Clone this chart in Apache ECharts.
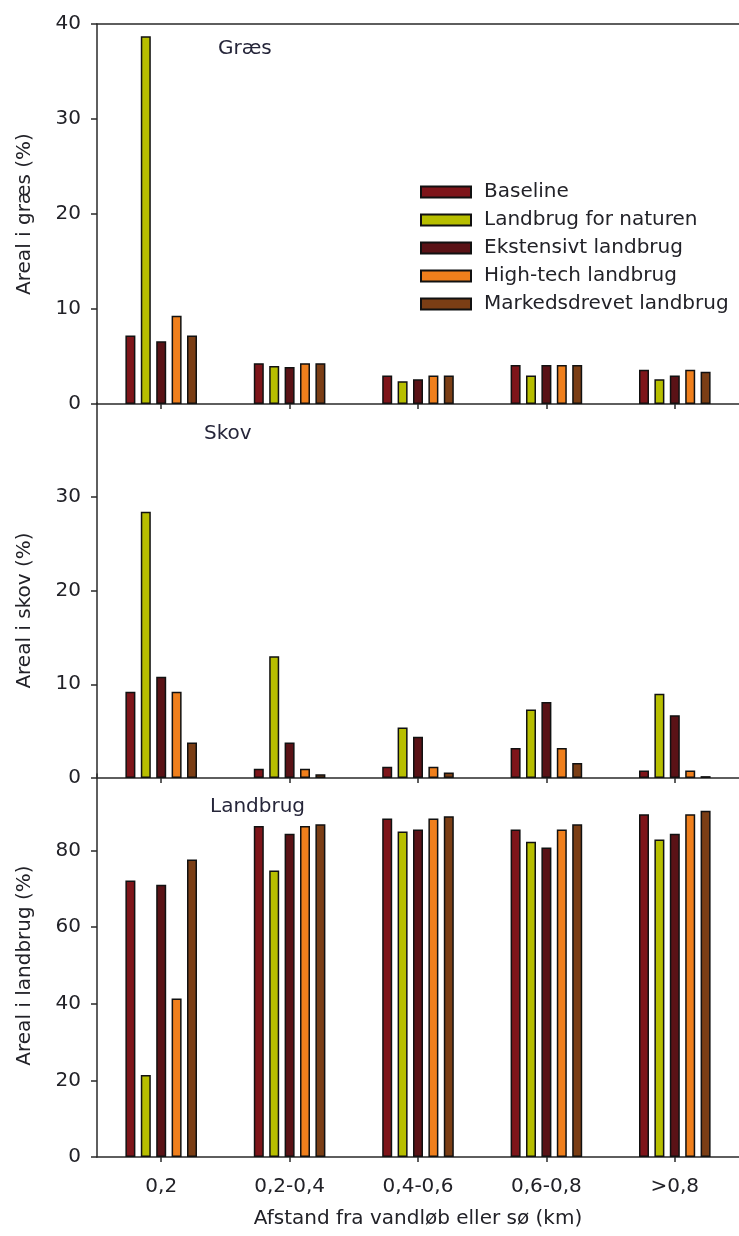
<!DOCTYPE html>
<html>
<head>
<meta charset="utf-8">
<script src="https://cdn.jsdelivr.net/npm/echarts@6/dist/echarts.min.js"></script>
<style>
  html, body { margin: 0; padding: 0; background: #fff; }
  #main { width: 739px; height: 1236px; }
</style>
</head>
<body>
<div id="main"></div>
<script>
// afstandsklasser
const categories = ['0,2', '0,2-0,4', '0,4-0,6', '0,6-0,8', '>0,8'];
const scenarier = ['Baseline', 'Landbrug for naturen', 'Ekstensivt landbrug', 'High-tech landbrug', 'Markedsdrevet landbrug'];
const farver = ['#7e151a', '#b7be00', '#5a1216', '#ef7f1c', '#7b3e15'];

// græs (%)
const graesBaseline = [7.2, 4.3, 3.0, 4.1, 3.6];
const graesNatur = [38.7, 4.0, 2.4, 3.0, 2.6];
const graesEkstensiv = [6.6, 3.9, 2.6, 4.1, 3.0];
const graesHighTech = [9.3, 4.3, 3.0, 4.1, 3.6];
const graesMarked = [7.2, 4.3, 3.0, 4.1, 3.4];

// skov (%)
const skovBaseline = [9.2, 1.0, 1.2, 3.2, 0.8];
const skovNatur = [28.4, 13.0, 5.4, 7.3, 9.0];
const skovEkstensiv = [10.8, 3.8, 4.4, 8.1, 6.7];
const skovHighTech = [9.2, 1.0, 1.2, 3.2, 0.8];
const skovMarked = [3.8, 0.4, 0.6, 1.6, 0.2];

// landbrug (%)
const landBaseline = [72.2, 86.4, 88.4, 85.5, 89.5];
const landNatur = [21.4, 74.8, 85.0, 82.3, 82.9];
const landEkstensiv = [71.1, 84.4, 85.5, 80.8, 84.4];
const landHighTech = [41.4, 86.4, 88.4, 85.5, 89.5];
const landMarked = [77.7, 86.9, 89.0, 86.9, 90.4];

const paneler = [
    [graesBaseline, graesNatur, graesEkstensiv, graesHighTech, graesMarked],
    [skovBaseline, skovNatur, skovEkstensiv, skovHighTech, skovMarked],
    [landBaseline, landNatur, landEkstensiv, landHighTech, landMarked]
];

const font = 'DejaVu Sans';
const tekst = '#222228';
const linje = { lineStyle: { color: '#2a2a2a', width: 1.5 } };

let series = [];
paneler.forEach((panel, p) => {
    panel.forEach((vals, i) => {
        series.push({
            name: scenarier[i],
            type: 'bar',
            xAxisIndex: p,
            yAxisIndex: p,
            data: vals,
            barWidth: 10,
            barGap: '54%',
            itemStyle: { color: farver[i], borderColor: '#111', borderWidth: 1.5 }
        });
    });
});

function xAkse(grid, labels) {
    return {
        type: 'category',
        gridIndex: grid,
        data: categories,
        axisLine: linje,
        axisTick: { show: true, alignWithLabel: true, length: 5, lineStyle: { color: '#2a2a2a', width: 1.5 } },
        axisLabel: { show: labels, margin: 20, fontFamily: font, fontSize: 20, color: tekst },
        name: labels ? 'Afstand fra vandløb eller sø (km)' : '',
        nameLocation: 'middle',
        nameGap: 52,
        nameTextStyle: { fontFamily: font, fontSize: 20, color: tekst }
    };
}

function yAkse(grid, max, interval, navn, visMax, pad) {
    return {
        type: 'value',
        gridIndex: grid,
        min: 0,
        max: max,
        interval: interval,
        splitLine: { show: false },
        axisLine: { show: true, lineStyle: { color: '#2a2a2a', width: 1.5 } },
        axisTick: { show: true, length: 6, lineStyle: { color: '#2a2a2a', width: 1.5 } },
        axisLabel: { showMaxLabel: visMax, margin: 16, fontFamily: font, fontSize: 20, color: tekst },
        name: navn,
        nameLocation: 'middle',
        nameGap: 62,
        nameTextStyle: { fontFamily: font, fontSize: 20, color: tekst, padding: pad }
    };
}

const titelStil = { fontFamily: font, fontSize: 20, fontWeight: 'normal', color: '#26263a' };

let chart = echarts.init(document.getElementById('main'), null, { renderer: 'canvas' });
chart.setOption({
    backgroundColor: '#fff',
    animation: false,
    title: [
        { text: 'Græs', left: 218, top: 39, padding: 0, textStyle: titelStil },
        { text: 'Skov', left: 204, top: 424, padding: 0, textStyle: titelStil },
        { text: 'Landbrug', left: 210, top: 797, padding: 0, textStyle: titelStil }
    ],
    legend: {
        data: scenarier,
        orient: 'vertical',
        left: 420,
        top: 182,
        padding: 0,
        icon: 'rect',
        itemWidth: 50,
        itemHeight: 11,
        itemGap: 8,
        textStyle: { fontFamily: font, fontSize: 20, color: tekst, padding: [0, 0, 0, 8] }
    },
    grid: [
        { left: 97, top: 24, width: 648, height: 380 },
        { left: 97, top: 403, width: 648, height: 375 },
        { left: 97, top: 774, width: 648, height: 383 }
    ],
    xAxis: [
        xAkse(0, false),
        xAkse(1, false),
        xAkse(2, true),
        {
            type: 'category', gridIndex: 0, position: 'top', data: categories,
            axisLine: linje, axisTick: { show: false }, axisLabel: { show: false }
        }
    ],
    yAxis: [
        yAkse(0, 40, 10, 'Areal i græs (%)', true, 0),
        yAkse(1, 40, 10, 'Areal i skov (%)', false, [0, 40, 0, 0]),
        yAkse(2, 100, 20, 'Areal i landbrug (%)', false, 0)
    ],
    series: series
});
</script>
</body>
</html>
